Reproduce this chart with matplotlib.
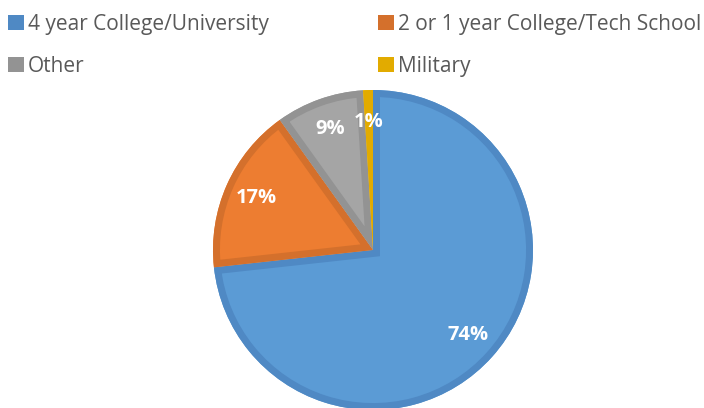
import matplotlib.pyplot as plt
import matplotlib.patches as mpatches
import numpy as np

labels = ["4 year College/University", "2 or 1 year College/Tech School", "Other", "Military"]
shares = [74, 17, 9, 1]
fills = ["#5b9bd5", "#ed7d31", "#a5a5a5", "#ffc000"]
edges = ["#4f89c4", "#d4702c", "#939393", "#e2ab00"]

fig = plt.figure(figsize=(7.04, 4.08), dpi=100)
W, H = 704, 408
cx, cy, r = 373, 250, 160
ax = fig.add_axes([(cx - r) / W, (H - cy - r) / H, 2 * r / W, 2 * r / H])

wedges, _ = ax.pie(shares, colors=fills, startangle=90, counterclock=False, radius=1)
for w, ec in zip(wedges, edges):
    # inset border: a stroke twice as wide, clipped to the wedge outline
    rim = mpatches.Wedge(w.center, w.r, w.theta1, w.theta2, facecolor="none",
                         edgecolor=ec, linewidth=10, transform=ax.transData)
    clip = mpatches.Wedge(w.center, w.r, w.theta1, w.theta2, transform=ax.transData)
    ax.add_patch(rim)
    rim.set_clip_path(clip)

for w, v in zip(wedges, shares):
    ang = np.deg2rad((w.theta1 + w.theta2) / 2)
    d = 0.8
    ax.text(d * np.cos(ang), d * np.sin(ang), f"{v}%", ha="center", va="center", zorder=5,
            color="white", fontsize=14.5, fontweight="bold", family=["Open Sans", "DejaVu Sans"])
ax.set_xlim(-1, 1)
ax.set_ylim(-1, 1)
ax.set_aspect("equal")
ax.axis("off")

# legend reads across rows, so feed it column by column
order = [0, 2, 1, 3]
handles = [mpatches.Patch(facecolor=edges[i]) for i in order]
fig.legend(handles, [labels[i] for i in order], ncol=2, loc="upper left",
           bbox_to_anchor=(-0.015, 1.012), frameon=False, handlelength=0.75,
           handleheight=0.75, handletextpad=0.2, columnspacing=5.25, labelspacing=1.0,
           labelcolor="#595959", prop={"family": ["Open Sans", "DejaVu Sans"], "size": 15.0})

fig.savefig("out.png", dpi=100)
